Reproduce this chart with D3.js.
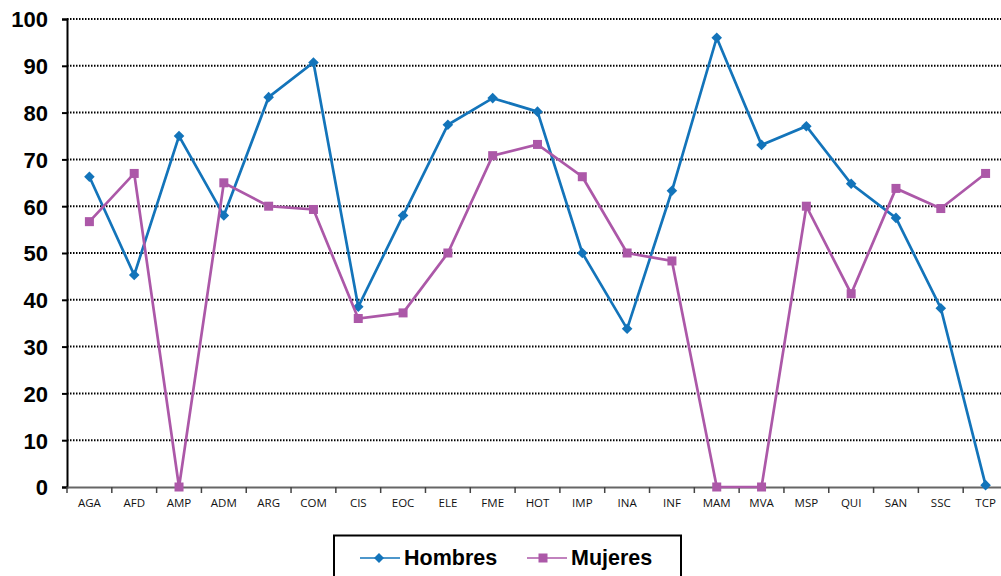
<!DOCTYPE html>
<html><head><meta charset="utf-8">
<script src="https://cdn.jsdelivr.net/npm/d3@7"></script>
<style>body{margin:0;background:#fff}svg{display:block}</style>
</head><body><svg id="c" width="1001" height="576"></svg>
<script>
const categories = ["AGA","AFD","AMP","ADM","ARG","COM","CIS","EOC","ELE","FME","HOT","IMP","INA","INF","MAM","MVA","MSP","QUI","SAN","SSC","TCP"];
const hombres = [66.3,45.3,75,58,83.3,90.7,38.5,58,77.4,83.1,80.2,50,33.8,63.3,96,73.1,77.1,64.8,57.5,38.2,0.4];
const mujeres = [56.7,67,0,65,60,59.3,36,37.2,50,70.8,73.2,66.3,50,48.3,0,0,60,41.3,63.8,59.5,67];
const yTicks = [0,10,20,30,40,50,60,70,80,90,100];
const seriesNames = ["Hombres","Mujeres"];
const colors = ["#1374BA","#AC58A8"];

const svg = d3.select("#c");
const x = d3.scaleBand().domain(categories).range([67,1008]).padding(0);
const y = d3.scaleLinear().domain([0,100]).range([487,19]);

// gridlines
svg.append("g").selectAll("line").data(yTicks.filter(d=>d>0)).join("line")
  .attr("x1",67).attr("x2",1001).attr("y1",d=>y(d)).attr("y2",d=>y(d))
  .attr("stroke","#000").attr("stroke-width",2).attr("stroke-dasharray","1.5,1.5");

// y axis
const ya = svg.append("g").attr("transform","translate(67,0)")
  .call(d3.axisLeft(y).tickValues(yTicks).tickSize(5).tickPadding(14));
ya.select(".domain").attr("stroke","#000").attr("stroke-width",2);
ya.selectAll(".tick line").attr("stroke","#000").attr("stroke-width",2);
ya.selectAll("text").attr("font-family","Liberation Sans, Arial, sans-serif")
  .attr("font-size",22).attr("font-weight","bold").attr("fill","#000").attr("dy","0.36em");

// x axis
const xa = svg.append("g").attr("transform","translate(0,487)")
  .call(d3.axisBottom(x).tickSize(0).tickPadding(12));
xa.select(".domain").attr("stroke","#666").attr("stroke-width",2);
xa.selectAll("text").attr("font-family","Open Sans, DejaVu Sans, sans-serif")
  .attr("font-size",11.5).attr("fill","#111");
// category boundary ticks
svg.append("g").selectAll("line").data(categories).join("line")
  .attr("x1",d=>x(d)).attr("x2",d=>x(d)).attr("y1",487).attr("y2",493)
  .attr("stroke","#444").attr("stroke-width",1.5);

const cx = d=>x(d)+x.bandwidth()/2;
const line = d3.line().x((d,i)=>cx(categories[i])).y(d=>y(d));

[hombres,mujeres].forEach((vals,si)=>{
  svg.append("path").datum(vals).attr("d",line).attr("fill","none")
    .attr("stroke",colors[si]).attr("stroke-width",2.7);
  const g = svg.append("g");
  if(si===0){
    g.selectAll("path").data(vals).join("path")
      .attr("d",d3.symbol(d3.symbolSquare,56))
      .attr("transform",(d,i)=>`translate(${cx(categories[i])},${y(d)}) rotate(45)`)
      .attr("fill",colors[si]);
  } else {
    g.selectAll("rect").data(vals).join("rect")
      .attr("x",(d,i)=>cx(categories[i])-4.5).attr("y",d=>y(d)-4.5)
      .attr("width",9).attr("height",9).attr("fill",colors[si]);
  }
});

// legend
const lg = svg.append("g");
lg.append("rect").attr("x",334).attr("y",535.5).attr("width",347).attr("height",50)
  .attr("fill","#fff").attr("stroke","#000").attr("stroke-width",2);
const legItems = [{lx:360,tx:404},{lx:527,tx:571}];
seriesNames.forEach((name,i)=>{
  const it = legItems[i];
  lg.append("line").attr("x1",it.lx).attr("x2",it.lx+40).attr("y1",558).attr("y2",558)
    .attr("stroke",colors[i]).attr("stroke-width",1.6);
  if(i===0){
    lg.append("path").attr("d",d3.symbol(d3.symbolSquare,50))
      .attr("transform",`translate(${it.lx+19},558) rotate(45)`).attr("fill",colors[i]);
  } else {
    lg.append("rect").attr("x",it.lx+16-4.5).attr("y",558-4.5).attr("width",9).attr("height",9).attr("fill",colors[i]);
  }
  lg.append("text").attr("x",it.tx).attr("y",565).text(name)
    .attr("font-family","Liberation Sans, Arial, sans-serif").attr("font-size",21.5)
    .attr("font-weight","bold").attr("fill","#000");
});
</script></body></html>
